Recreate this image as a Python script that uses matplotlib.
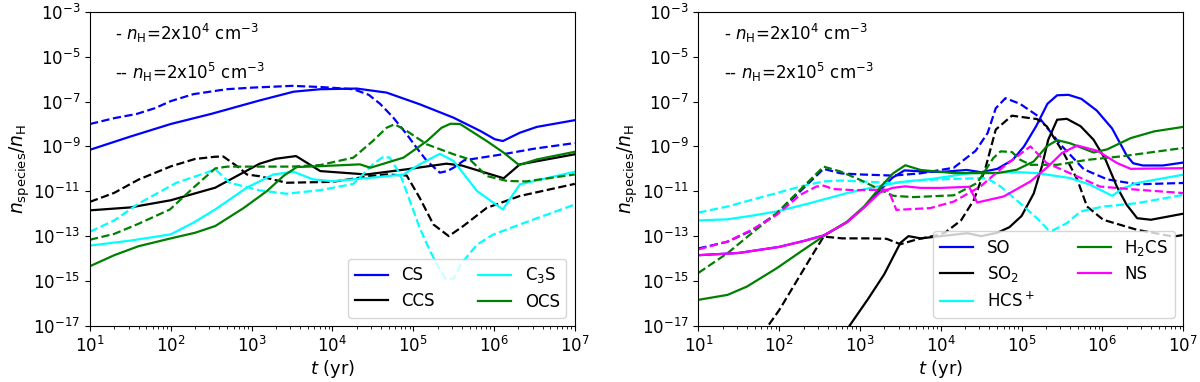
import matplotlib
matplotlib.use("Agg")
import matplotlib.pyplot as plt
import numpy as np

# All values are log10: time in yr, abundance n_species/n_H
# ---- left panel ----
cs_t = [1.0, 1.5, 2.0, 2.5, 2.75, 3.1, 3.52, 3.85, 4.3, 4.67, 5.08, 5.5, 5.83, 6.01, 6.11, 6.32, 6.53, 7.0]
cs_n = [-9.15, -8.56, -8.0, -7.55, -7.3, -6.95, -6.56, -6.45, -6.42, -6.6, -7.12, -7.72, -8.31, -8.68, -8.76, -8.39, -8.13, -7.83]
cs_t2 = [1.0, 1.3, 1.58, 1.8, 2.0, 2.28, 2.69, 3.0, 3.5, 3.85, 4.26, 4.45, 4.59, 4.75, 4.92, 5.05, 5.17, 5.33, 5.42, 5.5, 5.63, 6.11, 6.5, 7.0]
cs_n2 = [-8.0, -7.74, -7.55, -7.3, -6.98, -6.67, -6.45, -6.38, -6.3, -6.35, -6.45, -6.7, -7.1, -7.7, -8.46, -9.1, -9.65, -10.17, -10.1, -9.95, -9.62, -9.35, -9.1, -8.85]

ccs_t = [1.0, 1.5, 2.0, 2.55, 3.1, 3.3, 3.55, 3.85, 4.42, 4.92, 5.41, 5.6, 6.12, 6.32, 7.0]
ccs_n = [-11.85, -11.72, -11.4, -10.84, -9.77, -9.55, -9.43, -10.1, -10.25, -10.02, -9.77, -9.85, -10.42, -9.8, -9.35]
ccs_t2 = [1.0, 1.3, 1.6, 2.0, 2.3, 2.55, 2.65, 2.85, 2.94, 3.1, 3.43, 4.0, 4.47, 4.67, 4.92, 5.08, 5.25, 5.44, 5.62, 5.91, 6.32, 7.0]
ccs_n2 = [-11.47, -11.07, -10.48, -9.89, -9.56, -9.46, -9.45, -9.96, -10.25, -10.33, -10.62, -10.58, -10.32, -10.25, -10.3, -11.29, -12.48, -13.0, -12.55, -11.74, -11.21, -10.67]

c3s_t = [1.0, 1.5, 2.0, 2.28, 2.55, 2.94, 3.27, 3.52, 3.76, 4.0, 4.47, 4.88, 5.08, 5.33, 5.5, 5.79, 6.11, 6.32, 7.0]
c3s_n = [-13.42, -13.2, -12.92, -12.4, -11.81, -10.84, -10.25, -10.13, -10.47, -10.55, -10.4, -10.25, -9.8, -9.33, -9.65, -10.99, -11.81, -10.69, -10.13]
c3s_t2 = [1.0, 1.3, 1.6, 2.07, 2.44, 2.55, 2.73, 3.1, 3.43, 3.85, 4.26, 4.5, 4.63, 4.71, 4.84, 4.96, 5.08, 5.21, 5.3, 5.4, 5.5, 5.6, 5.79, 5.99, 6.32, 7.0]
c3s_n2 = [-12.8, -12.3, -11.55, -10.62, -10.17, -10.02, -10.62, -10.96, -11.11, -10.95, -10.67, -9.8, -9.46, -9.5, -10.25, -11.44, -12.63, -13.67, -14.3, -14.9, -14.9, -14.2, -13.38, -12.93, -12.48, -11.59]

ocs_t = [1.0, 1.3, 1.6, 2.0, 2.3, 2.55, 2.9, 3.19, 3.4, 3.56, 3.85, 4.34, 4.47, 4.88, 5.17, 5.35, 5.46, 5.58, 5.91, 6.12, 6.31, 6.53, 7.0]
ocs_n = [-14.34, -13.85, -13.45, -13.1, -12.85, -12.55, -11.75, -10.99, -10.3, -9.92, -9.88, -9.8, -9.95, -9.5, -8.76, -8.17, -7.99, -8.0, -8.76, -9.28, -9.83, -9.58, -9.24]
ocs_t2 = [1.0, 1.3, 1.6, 1.99, 2.28, 2.55, 2.7, 3.0, 3.5, 3.85, 4.26, 4.5, 4.67, 4.77, 4.92, 5.17, 5.5, 5.7, 5.91, 6.16, 6.4, 7.0]
ocs_n2 = [-13.16, -12.9, -12.45, -11.81, -10.84, -9.98, -9.9, -9.9, -9.9, -9.83, -9.5, -8.76, -8.17, -8.01, -8.31, -8.91, -9.35, -9.58, -10.32, -10.54, -10.56, -10.25]

# ---- right panel ----
so_t = [1.0, 1.5, 2.0, 2.3, 2.55, 2.84, 3.05, 3.25, 3.4, 3.55, 3.8, 4.0, 4.32, 4.5, 4.7, 4.89, 5.03, 5.18, 5.32, 5.44, 5.58, 5.74, 5.93, 6.12, 6.3, 6.38, 6.5, 6.75, 7.0]
so_n = [-13.85, -13.75, -13.48, -13.22, -12.97, -12.38, -11.72, -10.95, -10.4, -10.07, -10.12, -10.14, -10.05, -10.15, -10.0, -9.6, -9.0, -8.1, -7.1, -6.72, -6.7, -6.88, -7.4, -8.2, -9.4, -9.75, -9.85, -9.85, -9.72]
so_t2 = [1.0, 1.36, 1.66, 1.97, 2.26, 2.55, 2.76, 3.0, 3.41, 3.75, 4.16, 4.43, 4.58, 4.68, 4.8, 4.98, 5.2, 5.48, 5.77, 6.06, 6.43, 7.0]
so_n2 = [-13.55, -13.25, -12.75, -12.0, -11.0, -10.0, -10.2, -10.25, -10.3, -10.2, -9.95, -9.2, -8.4, -7.3, -6.85, -7.1, -7.64, -8.91, -10.02, -10.47, -10.69, -10.63]

so2_t = [2.8, 2.86, 3.1, 3.3, 3.5, 3.6, 3.75, 4.0, 4.33, 4.5, 4.7, 4.85, 5.0, 5.15, 5.25, 5.33, 5.44, 5.56, 5.73, 5.89, 6.04, 6.18, 6.3, 6.43, 6.6, 7.0]
so2_n = [-17.5, -17.05, -15.8, -14.7, -13.3, -13.0, -13.1, -13.0, -12.87, -13.0, -12.85, -12.6, -12.1, -11.1, -9.9, -8.7, -7.81, -7.77, -8.1, -8.7, -9.6, -10.8, -11.6, -12.2, -12.27, -12.0]
so2_t2 = [1.8, 1.87, 2.0, 2.2, 2.4, 2.55, 2.78, 3.1, 3.33, 3.5, 3.7, 3.9, 4.05, 4.25, 4.41, 4.55, 4.68, 4.88, 5.19, 5.31, 5.52, 5.69, 5.81, 6.01, 6.43, 6.88, 7.0]
so2_n2 = [-17.4, -16.96, -16.3, -15.1, -13.9, -13.02, -13.1, -13.1, -13.12, -13.36, -13.15, -13.0, -12.85, -12.3, -11.38, -10.0, -8.25, -7.63, -7.78, -8.1, -9.29, -10.49, -11.68, -12.27, -12.72, -13.02, -12.95]

hcs_t = [1.0, 1.36, 1.66, 1.97, 2.38, 2.84, 3.21, 3.5, 3.87, 4.37, 4.98, 5.19, 5.6, 5.85, 6.12, 6.26, 6.43, 7.0]
hcs_n = [-12.3, -12.25, -12.09, -11.9, -11.53, -11.08, -10.79, -10.59, -10.46, -10.19, -10.15, -10.19, -10.41, -10.71, -11.2, -10.86, -10.63, -10.26]
hcs_t2 = [1.0, 1.36, 1.66, 1.97, 2.26, 2.55, 2.76, 3.0, 3.41, 3.75, 4.16, 4.57, 4.74, 4.98, 5.19, 5.33, 5.39, 5.56, 5.73, 6.01, 6.43, 7.0]
hcs_n2 = [-11.95, -11.68, -11.38, -11.08, -10.79, -10.56, -10.52, -10.56, -10.63, -10.5, -10.45, -10.41, -10.79, -11.53, -12.2, -12.72, -12.74, -12.42, -11.9, -11.68, -11.53, -11.16]

h2cs_t = [1.0, 1.36, 1.6, 1.97, 2.3, 2.55, 2.84, 3.05, 3.25, 3.41, 3.56, 3.75, 4.16, 4.7, 4.94, 5.15, 5.31, 5.44, 5.6, 5.89, 6.06, 6.35, 6.64, 7.0]
h2cs_n = [-15.84, -15.62, -15.25, -14.43, -13.61, -13.0, -12.35, -11.68, -10.82, -10.2, -9.84, -10.05, -10.19, -10.19, -10.04, -9.67, -9.0, -8.72, -8.86, -9.27, -9.13, -8.63, -8.33, -8.13]
h2cs_t2 = [1.0, 1.36, 1.66, 1.97, 2.26, 2.55, 2.76, 3.0, 3.25, 3.41, 3.66, 4.16, 4.45, 4.65, 4.74, 4.88, 4.98, 5.11, 5.44, 5.81, 6.22, 7.0]
h2cs_n2 = [-14.64, -13.76, -12.87, -11.97, -10.93, -9.9, -10.12, -10.49, -10.93, -11.2, -11.26, -11.18, -10.63, -9.52, -9.22, -9.25, -9.59, -9.82, -9.82, -9.6, -9.45, -9.07]

ns_t = [1.0, 1.5, 2.0, 2.3, 2.55, 2.84, 3.05, 3.25, 3.4, 3.56, 3.75, 4.0, 4.35, 4.45, 4.78, 5.11, 5.33, 5.5, 5.69, 5.94, 6.18, 6.35, 7.0]
ns_n = [-13.85, -13.75, -13.48, -13.22, -12.97, -12.38, -11.72, -11.05, -10.85, -10.78, -10.85, -10.85, -10.8, -11.5, -11.23, -10.56, -9.89, -9.29, -8.96, -9.2, -9.74, -10.0, -9.97]
ns_t2 = [1.0, 1.36, 1.66, 1.97, 2.26, 2.46, 2.55, 2.67, 2.92, 3.33, 3.38, 3.45, 3.87, 4.16, 4.49, 4.78, 5.11, 5.31, 5.64, 5.97, 6.43, 7.0]
ns_n2 = [-13.59, -13.24, -12.72, -12.05, -11.16, -10.79, -10.75, -10.9, -10.95, -10.93, -11.2, -11.83, -11.75, -11.46, -10.79, -9.89, -9.0, -9.74, -10.26, -10.79, -10.93, -11.08]

left_series = [
    ("CS", "blue", cs_t, cs_n, cs_t2, cs_n2),
    ("CCS", "black", ccs_t, ccs_n, ccs_t2, ccs_n2),
    ("C$_3$S", "cyan", c3s_t, c3s_n, c3s_t2, c3s_n2),
    ("OCS", "green", ocs_t, ocs_n, ocs_t2, ocs_n2),
]
right_series = [
    ("SO", "blue", so_t, so_n, so_t2, so_n2),
    ("SO$_2$", "black", so2_t, so2_n, so2_t2, so2_n2),
    ("HCS$^+$", "cyan", hcs_t, hcs_n, hcs_t2, hcs_n2),
    ("H$_2$CS", "green", h2cs_t, h2cs_n, h2cs_t2, h2cs_n2),
    ("NS", "magenta", ns_t, ns_n, ns_t2, ns_n2),
]

fig = plt.figure(figsize=(12, 3.82), dpi=100)
ax1 = fig.add_axes([0.075, 0.147, 0.404, 0.822])
ax2 = fig.add_axes([0.582, 0.147, 0.404, 0.822])

for ax, series in [(ax1, left_series), (ax2, right_series)]:
    for label, color, t1, n1, t2, n2 in series:
        ax.plot(10**np.array(t1), 10**np.array(n1), color=color, lw=1.6, label=label)
        ax.plot(10**np.array(t2), 10**np.array(n2), color=color, lw=1.6, ls="--")

    ax.set_xscale("log")
    ax.set_yscale("log")
    ax.set_xlim(1e1, 1e7)
    ax.set_ylim(1e-17, 1e-3)
    ax.set_yticks([10.0**k for k in range(-17, -2, 2)])
    ax.yaxis.set_minor_locator(matplotlib.ticker.NullLocator())
    ax.tick_params(labelsize=12)

    ax.set_xlabel(r"$t$ (yr)", fontsize=13, labelpad=2)
    ax.set_ylabel(r"$n_{\rm species}/n_{\rm H}$", fontsize=13.5, labelpad=1)

    ax.text(0.052, 0.93, r"- $n_{\rm H}$=2x10$^4$ cm$^{-3}$", transform=ax.transAxes,
            fontsize=12, va="center")
    ax.text(0.052, 0.806, r"-- $n_{\rm H}$=2x10$^5$ cm$^{-3}$", transform=ax.transAxes,
            fontsize=12, va="center")

    ax.legend(loc="lower right", ncol=2, fontsize=12, labelspacing=0.45,
              columnspacing=2.6)

fig.savefig("out.png", dpi=100)
